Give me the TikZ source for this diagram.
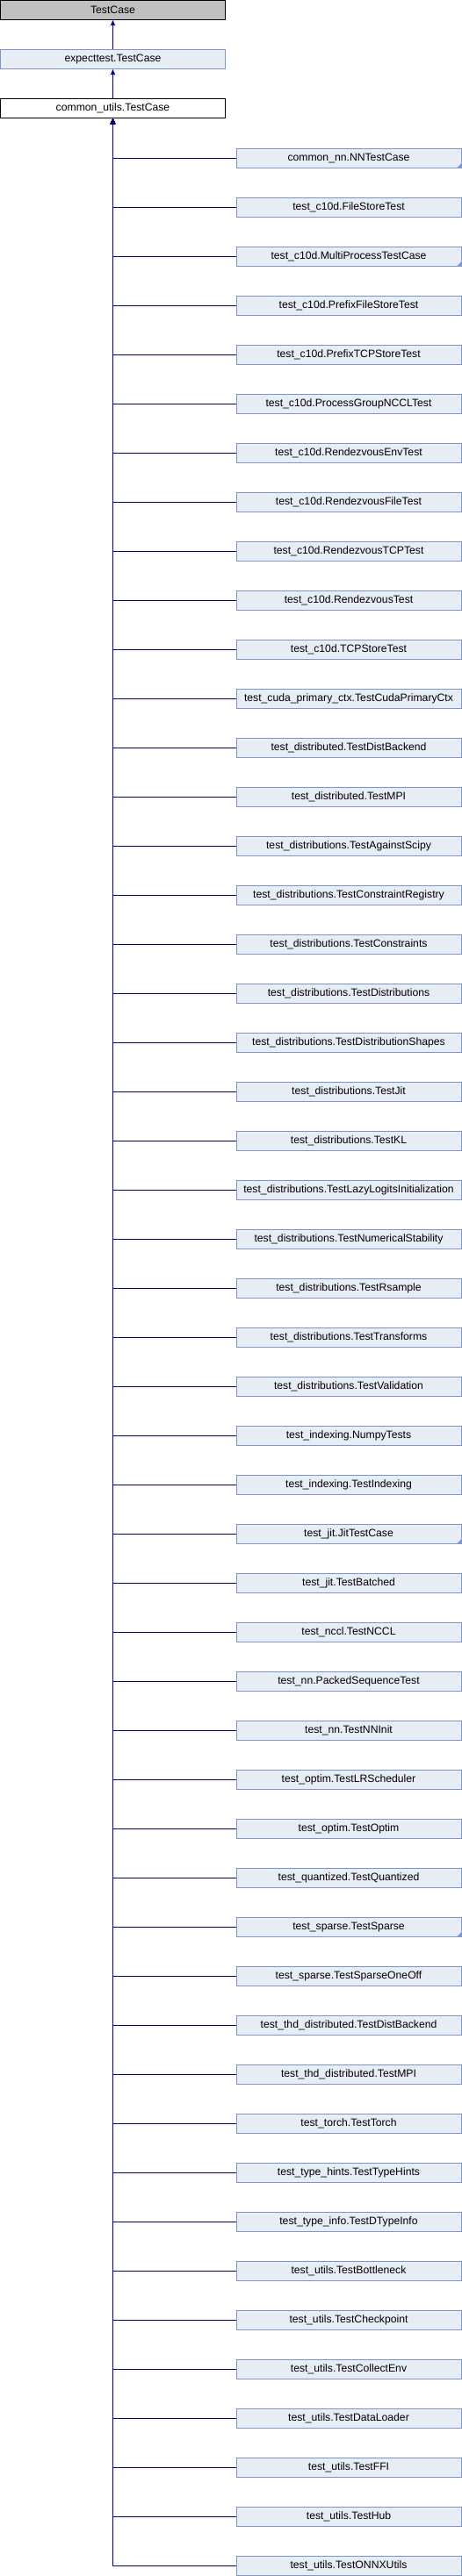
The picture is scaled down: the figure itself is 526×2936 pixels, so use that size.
\documentclass[tikz,border=0pt]{standalone}
\usepackage{fontspec}
\setmainfont{Liberation Sans}
\usetikzlibrary{arrows.meta}

\definecolor{basegray}{RGB}{191,191,191}
\definecolor{boxfill}{RGB}{232,236,244}
\definecolor{boxline}{RGB}{122,150,205}
\definecolor{linkblue}{RGB}{0,0,128}

\tikzset{
  classbox/.style={rectangle, line width=1pt, inner sep=0pt,
    minimum width=256pt, minimum height=22pt,
    font=\fontsize{12.2}{14}\selectfont},
  base/.style={classbox, draw=black, fill=basegray},
  self/.style={classbox, draw=black, fill=white},
  klass/.style={classbox, draw=boxline, fill=boxfill},
  morebox/.style={klass, path picture={
    \fill[boxline] (path picture bounding box.south east)
      -- ++(-5pt,0pt) -- ++(5pt,5pt) -- cycle;}},
  isa/.style={draw=linkblue, line width=1pt,
    {Triangle[length=6pt,width=5pt]}-}
}

\begin{document}
\begin{tikzpicture}[x=1pt,y=-1pt]
	\useasboundingbox (0,0) rectangle (526,2936);
	\node [base] (tc) at (128.5,11.5) {TestCase};
	\node [klass] (et) at (128.5,67.5) {expecttest.TestCase};
	\node [self] (cu) at (128.5,123.5) {common\_utils.TestCase};
	\node [morebox] (nntest) at (397,180.5) {common\_nn.NNTestCase};
	\node [klass] (filestore) at (397,236.5) {test\_c10d.FileStoreTest};
	\node [morebox] (multiproc) at (397,292.5) {test\_c10d.MultiProcessTestCase};
	\node [klass] (prefixfile) at (397,348.5) {test\_c10d.PrefixFileStoreTest};
	\node [klass] (prefixtcp) at (397,404.5) {test\_c10d.PrefixTCPStoreTest};
	\node [klass] (pgnccl) at (397,460.5) {test\_c10d.ProcessGroupNCCLTest};
	\node [klass] (rdvenv) at (397,516.5) {test\_c10d.RendezvousEnvTest};
	\node [klass] (rdvfile) at (397,572.5) {test\_c10d.RendezvousFileTest};
	\node [klass] (rdvtcp) at (397,628.5) {test\_c10d.RendezvousTCPTest};
	\node [klass] (rdv) at (397,684.5) {test\_c10d.RendezvousTest};
	\node [klass] (tcpstore) at (397,740.5) {test\_c10d.TCPStoreTest};
	\node [klass] (cudactx) at (397,796.5) {test\_cuda\_primary\_ctx.TestCudaPrimaryCtx};
	\node [klass] (distbackend) at (397,852.5) {test\_distributed.TestDistBackend};
	\node [klass] (distmpi) at (397,908.5) {test\_distributed.TestMPI};
	\node [klass] (scipy) at (397,964.5) {test\_distributions.TestAgainstScipy};
	\node [klass] (constreg) at (397,1020.5) {test\_distributions.TestConstraintRegistry};
	\node [klass] (constraints) at (397,1076.5) {test\_distributions.TestConstraints};
	\node [klass] (distributions) at (397,1132.5) {test\_distributions.TestDistributions};
	\node [klass] (distshapes) at (397,1188.5) {test\_distributions.TestDistributionShapes};
	\node [klass] (distjit) at (397,1244.5) {test\_distributions.TestJit};
	\node [klass] (distkl) at (397,1300.5) {test\_distributions.TestKL};
	\node [klass] (lazylogits) at (397,1356.5) {test\_distributions.TestLazyLogitsInitialization};
	\node [klass] (numstab) at (397,1412.5) {test\_distributions.TestNumericalStability};
	\node [klass] (rsample) at (397,1468.5) {test\_distributions.TestRsample};
	\node [klass] (transforms) at (397,1524.5) {test\_distributions.TestTransforms};
	\node [klass] (validation) at (397,1580.5) {test\_distributions.TestValidation};
	\node [klass] (numpytests) at (397,1636.5) {test\_indexing.NumpyTests};
	\node [klass] (indexing) at (397,1692.5) {test\_indexing.TestIndexing};
	\node [morebox] (jittc) at (397,1748.5) {test\_jit.JitTestCase};
	\node [klass] (batched) at (397,1804.5) {test\_jit.TestBatched};
	\node [klass] (nccl) at (397,1860.5) {test\_nccl.TestNCCL};
	\node [klass] (packedseq) at (397,1916.5) {test\_nn.PackedSequenceTest};
	\node [klass] (nninit) at (397,1972.5) {test\_nn.TestNNInit};
	\node [klass] (lrsched) at (397,2028.5) {test\_optim.TestLRScheduler};
	\node [klass] (optim) at (397,2084.5) {test\_optim.TestOptim};
	\node [klass] (quantized) at (397,2140.5) {test\_quantized.TestQuantized};
	\node [morebox] (sparse) at (397,2196.5) {test\_sparse.TestSparse};
	\node [klass] (sparseoneoff) at (397,2252.5) {test\_sparse.TestSparseOneOff};
	\node [klass] (thdbackend) at (397,2308.5) {test\_thd\_distributed.TestDistBackend};
	\node [klass] (thdmpi) at (397,2364.5) {test\_thd\_distributed.TestMPI};
	\node [klass] (torch) at (397,2420.5) {test\_torch.TestTorch};
	\node [klass] (typehints) at (397,2476.5) {test\_type\_hints.TestTypeHints};
	\node [klass] (dtypeinfo) at (397,2532.5) {test\_type\_info.TestDTypeInfo};
	\node [klass] (bottleneck) at (397,2588.5) {test\_utils.TestBottleneck};
	\node [klass] (checkpoint) at (397,2644.5) {test\_utils.TestCheckpoint};
	\node [klass] (collectenv) at (397,2700.5) {test\_utils.TestCollectEnv};
	\node [klass] (dataloader) at (397,2756.5) {test\_utils.TestDataLoader};
	\node [klass] (ffi) at (397,2812.5) {test\_utils.TestFFI};
	\node [klass] (hub) at (397,2868.5) {test\_utils.TestHub};
	\node [klass] (onnxutils) at (397,2924.5) {test\_utils.TestONNXUtils};
	\draw [isa] (tc) -- (et);
	\draw [isa] (et) -- (cu);
	\draw [isa] (cu) |- (nntest);
	\draw [isa] (cu) |- (filestore);
	\draw [isa] (cu) |- (multiproc);
	\draw [isa] (cu) |- (prefixfile);
	\draw [isa] (cu) |- (prefixtcp);
	\draw [isa] (cu) |- (pgnccl);
	\draw [isa] (cu) |- (rdvenv);
	\draw [isa] (cu) |- (rdvfile);
	\draw [isa] (cu) |- (rdvtcp);
	\draw [isa] (cu) |- (rdv);
	\draw [isa] (cu) |- (tcpstore);
	\draw [isa] (cu) |- (cudactx);
	\draw [isa] (cu) |- (distbackend);
	\draw [isa] (cu) |- (distmpi);
	\draw [isa] (cu) |- (scipy);
	\draw [isa] (cu) |- (constreg);
	\draw [isa] (cu) |- (constraints);
	\draw [isa] (cu) |- (distributions);
	\draw [isa] (cu) |- (distshapes);
	\draw [isa] (cu) |- (distjit);
	\draw [isa] (cu) |- (distkl);
	\draw [isa] (cu) |- (lazylogits);
	\draw [isa] (cu) |- (numstab);
	\draw [isa] (cu) |- (rsample);
	\draw [isa] (cu) |- (transforms);
	\draw [isa] (cu) |- (validation);
	\draw [isa] (cu) |- (numpytests);
	\draw [isa] (cu) |- (indexing);
	\draw [isa] (cu) |- (jittc);
	\draw [isa] (cu) |- (batched);
	\draw [isa] (cu) |- (nccl);
	\draw [isa] (cu) |- (packedseq);
	\draw [isa] (cu) |- (nninit);
	\draw [isa] (cu) |- (lrsched);
	\draw [isa] (cu) |- (optim);
	\draw [isa] (cu) |- (quantized);
	\draw [isa] (cu) |- (sparse);
	\draw [isa] (cu) |- (sparseoneoff);
	\draw [isa] (cu) |- (thdbackend);
	\draw [isa] (cu) |- (thdmpi);
	\draw [isa] (cu) |- (torch);
	\draw [isa] (cu) |- (typehints);
	\draw [isa] (cu) |- (dtypeinfo);
	\draw [isa] (cu) |- (bottleneck);
	\draw [isa] (cu) |- (checkpoint);
	\draw [isa] (cu) |- (collectenv);
	\draw [isa] (cu) |- (dataloader);
	\draw [isa] (cu) |- (ffi);
	\draw [isa] (cu) |- (hub);
	\draw [isa] (cu) |- (onnxutils);
\end{tikzpicture}
\end{document}
